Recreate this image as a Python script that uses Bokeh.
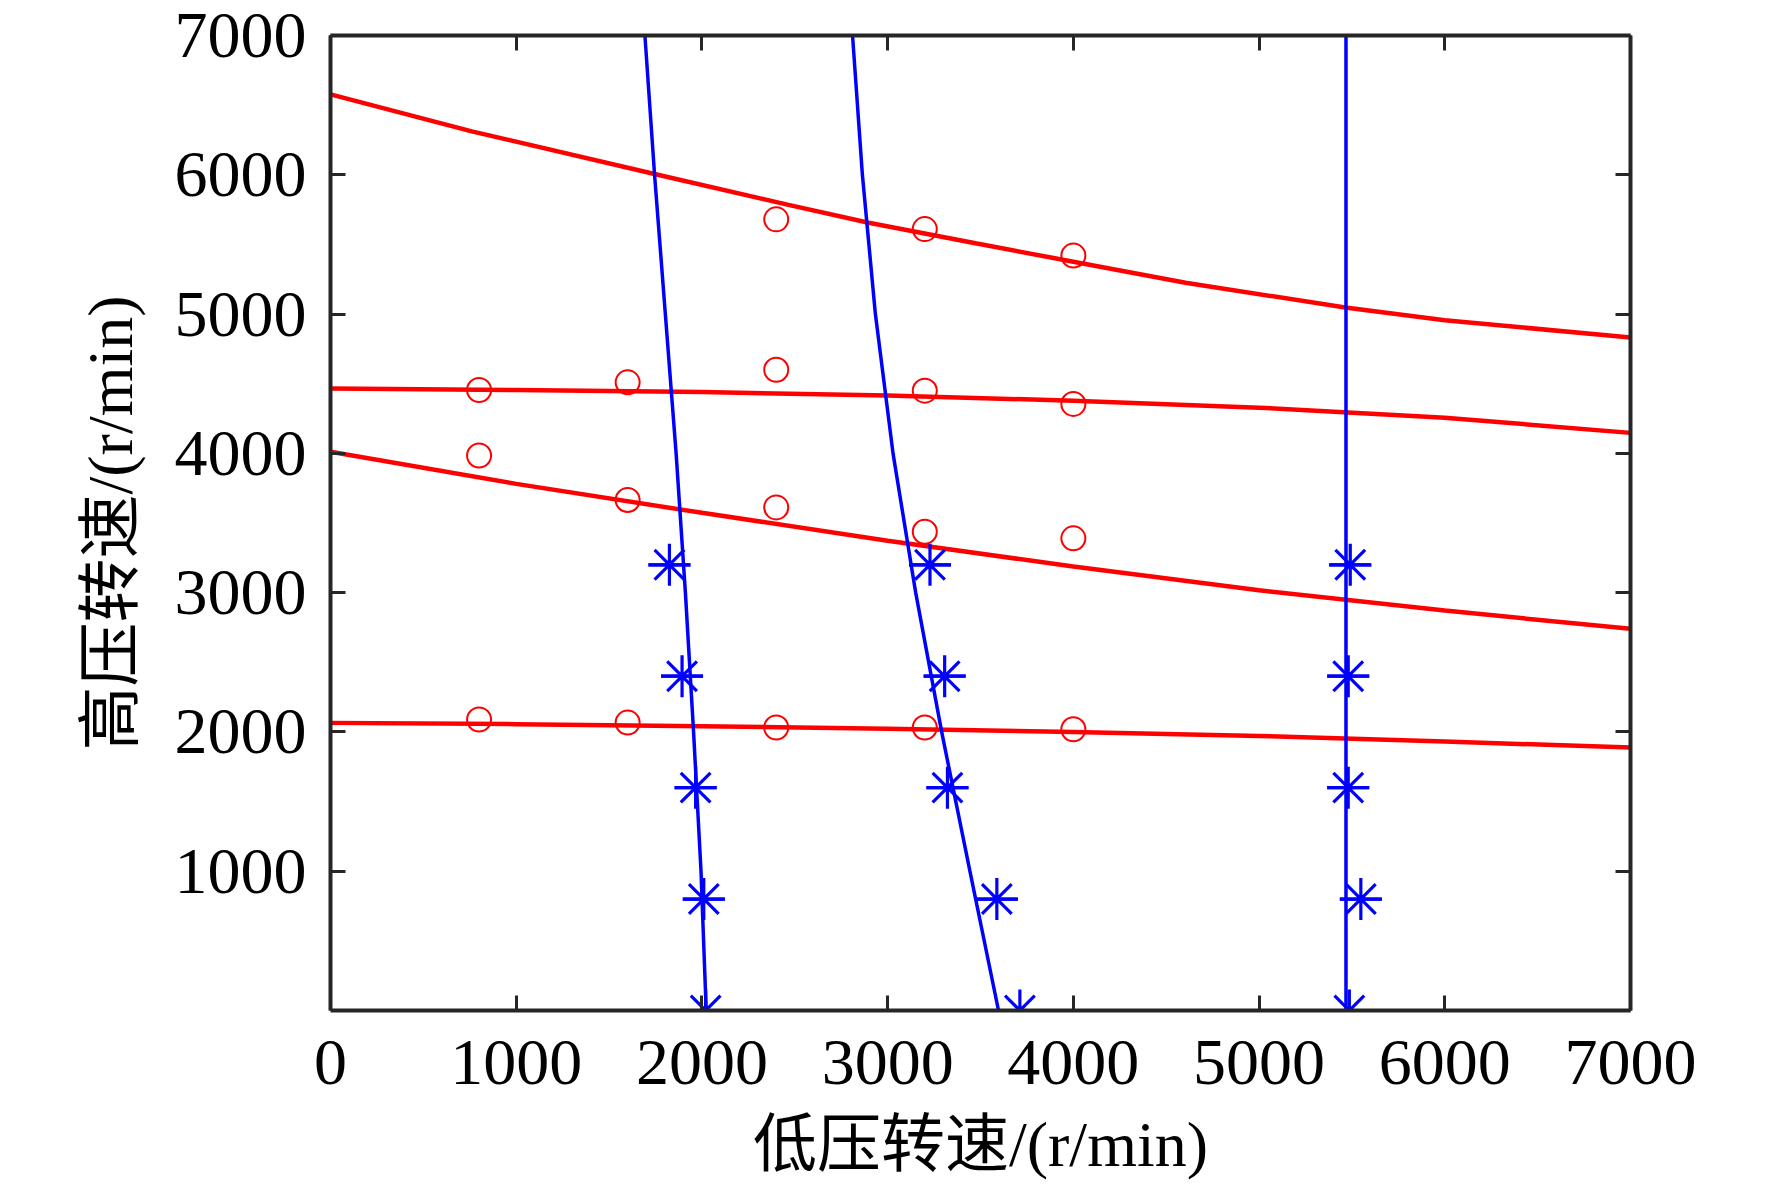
from bokeh.plotting import figure
from bokeh.models import Range1d, FixedTicker, LinearAxis, CustomJSTickFormatter
from bokeh.embed import file_html
from bokeh.resources import INLINE

# tick positions
x_ticks = [0, 1000, 2000, 3000, 4000, 5000, 6000, 7000]
y_ticks = [1000, 2000, 3000, 4000, 5000, 6000, 7000]

# measured points (o): low-pressure speed vs high-pressure speed
circle_lp_top = [2400, 3200, 4000]
circle_hp_top = [5680, 5610, 5420]
circle_lp = [800, 1600, 2400, 3200, 4000]
circle_hp_b = [4455, 4510, 4600, 4450, 4355]
circle_hp_c = [3985, 3665, 3612, 3437, 3390]
circle_hp_d = [2089, 2067, 2032, 2032, 2019]

# measured points (*)
star_hp = [3200, 2400, 1600, 800, 0]
star_lp_1 = [1825, 1893, 1966, 2010, 2020]
star_lp_2 = [3228, 3307, 3322, 3588, 3712]
star_lp_3 = [5491, 5480, 5480, 5548, 5486]

# red fitted curves
red_1_lp = [0, 761, 1739, 2466, 2898, 3473, 4000, 4604, 5464, 6000, 7000]
red_1 = [6577, 6312, 6007, 5784, 5656, 5508, 5376, 5225, 5047, 4956, 4831]
red_lp = [0, 1000, 2000, 3000, 4000, 5000, 6000, 7000]
red_2 = [4466, 4455, 4440, 4415, 4378, 4328, 4256, 4147]
red_3 = [4012, 3781, 3573, 3373, 3187, 3017, 2871, 2740]
red_4 = [2065, 2056, 2041, 2022, 2000, 1971, 1931, 1888]

# blue fitted curves, read at fixed high-pressure speeds
blue_hp = [0, 1000, 2000, 3000, 4000, 5000, 6000, 7000]
blue_1 = [2023, 1995, 1955, 1911, 1861, 1803, 1745, 1693]
blue_2 = [3597, 3443, 3291, 3151, 3029, 2934, 2864, 2811]
blue_3_hp = [0, 7000]
blue_3 = [5468, 5468]

x_title = "低压转速/(r/min)"
y_title = "高压转速/(r/min)"

FONT = "Liberation Serif, Noto Sans CJK SC"
AXIS_COLOR = "#262626"

p = figure(width=1756, height=1186,
           x_range=Range1d(0, 7000), y_range=Range1d(0, 7000),
           output_backend="svg", toolbar_location=None,
           min_border_left=330, min_border_right=126,
           min_border_top=35, min_border_bottom=176)
p.grid.visible = False
p.outline_line_color = None
p.background_fill_color = "white"
p.border_fill_color = "white"

for lp, hp in [(red_1_lp, red_1), (red_lp, red_2), (red_lp, red_3), (red_lp, red_4)]:
    p.line(lp, hp, line_color="#ff0000", line_width=4.5)
for lp, hp in [(blue_1, blue_hp), (blue_2, blue_hp), (blue_3, blue_3_hp)]:
    p.line(lp, hp, line_color="#0000ff", line_width=3.5)

for lp, hp in [(circle_lp_top, circle_hp_top), (circle_lp, circle_hp_b),
               (circle_lp, circle_hp_c), (circle_lp, circle_hp_d)]:
    p.scatter(lp, hp, marker="circle", size=24, fill_color=None,
              line_color="#ff0000", line_width=2)

for lp in [star_lp_1, star_lp_2, star_lp_3]:
    p.scatter(lp, star_hp, marker="asterisk", size=42,
              line_color="#0000ff", line_width=3.2)
    p.scatter(lp, star_hp, marker="dash", size=42,
              line_color="#0000ff", line_width=3.2)


def style_axis(ax):
    ax.axis_line_color = AXIS_COLOR
    ax.axis_line_width = 4
    ax.major_tick_line_color = AXIS_COLOR
    ax.major_tick_line_width = 3
    ax.major_tick_in = 15
    ax.major_tick_out = 0
    ax.minor_tick_line_color = None
    ax.major_label_text_font = FONT
    ax.major_label_text_font_size = "66px"
    ax.major_label_text_color = "black"
    ax.axis_label_text_font = FONT
    ax.axis_label_text_font_size = "64px"
    ax.axis_label_text_font_style = "normal"
    ax.axis_label_text_color = "black"


p.xaxis.ticker = FixedTicker(ticks=x_ticks)
p.yaxis.ticker = FixedTicker(ticks=y_ticks)
p.xaxis.axis_label = x_title
p.yaxis.axis_label = y_title
style_axis(p.xaxis[0])
style_axis(p.yaxis[0])
p.xaxis.major_label_standoff = 30
p.yaxis.major_label_standoff = 24
p.xaxis.axis_label_standoff = 22
p.yaxis.axis_label_standoff = 26

blank = CustomJSTickFormatter(code="return ''")
top = LinearAxis(ticker=FixedTicker(ticks=x_ticks), formatter=blank)
right = LinearAxis(ticker=FixedTicker(ticks=x_ticks), formatter=blank)
for ax in (top, right):
    style_axis(ax)
    ax.major_label_text_font_size = "1px"
    ax.major_label_standoff = 0
p.add_layout(top, "above")
p.add_layout(right, "right")

open("out.html", "w").write(file_html(p, INLINE))
